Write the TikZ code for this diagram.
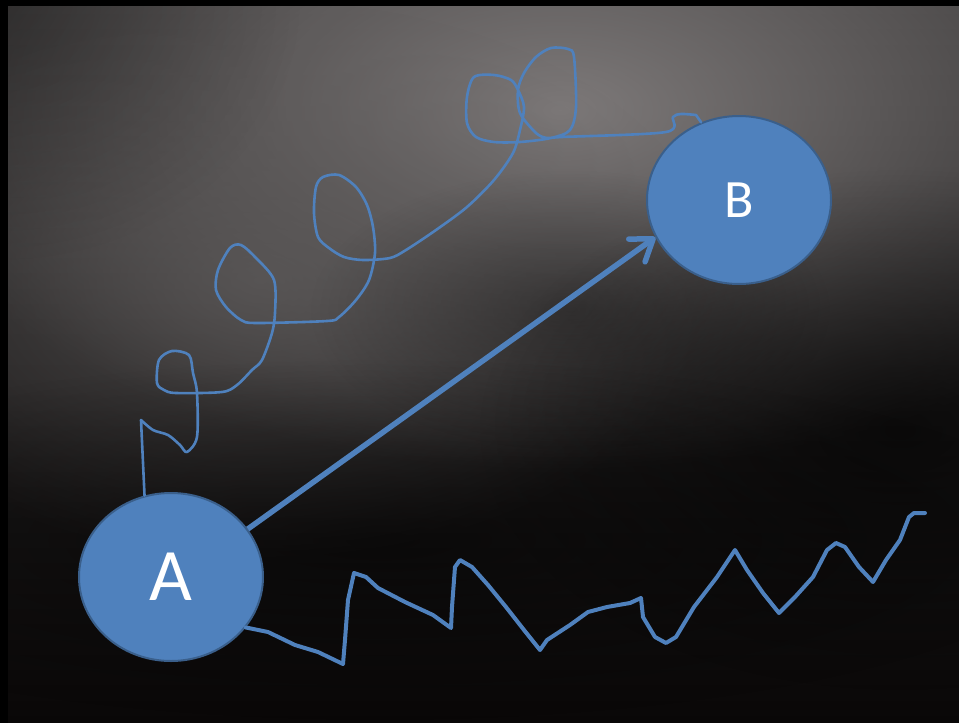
\documentclass[tikz,border=0pt]{standalone}
\usepackage{fontspec}
\setmainfont{Carlito}
\usetikzlibrary{arrows.meta, shapes.geometric, fadings}

\definecolor{ballfill}{HTML}{4F81BD}
\definecolor{ballrim}{HTML}{3A5F8B}
\definecolor{pen}{HTML}{4F81BD}
\definecolor{boardtop}{HTML}{383636}
\definecolor{boardmid}{HTML}{201E1E}
\definecolor{boardbot}{HTML}{090707}
\definecolor{glow}{HTML}{7E7A7A}

\tikzfading[name=softspot, inner color=transparent!0, outer color=transparent!100]

\begin{document}
\begin{tikzpicture}[x=1pt, y=-1pt,
    ball/.style={ellipse, draw=ballrim, line width=2pt, fill=ballfill,
        inner sep=0pt, minimum width=184pt, minimum height=168pt, text=white},
    scribble/.style={draw=pen, line width=2.6pt, line cap=round, line join=round},
    zigzag/.style={draw=pen, line width=4pt, line cap=round, line join=round},
    push/.style={draw=pen, line width=5.5pt,
        -{Straight Barb[length=20pt, width=28pt, round]}}
]

    % ================= 背景: 黑板 =================
    \useasboundingbox (0,0) rectangle (959,723);
    \fill[black] (0,0) rectangle (959,723);
    \shade[top color=boardtop, middle color=boardmid, bottom color=boardbot]
        (8,6) rectangle (959,723);
    % 上方中间的亮斑, 四角压暗
    \begin{scope}
        \clip (8,6) rectangle (959,723);
        \fill[glow, path fading=softspot] (560,110) ellipse (680 and 360);
        \fill[glow!75!black, path fading=softspot, opacity=0.7] (260,280) ellipse (460 and 280);
        \fill[black, path fading=softspot, opacity=0.35] (570,310) ellipse (260 and 140);
        \fill[black, path fading=softspot, opacity=0.6] (900,430) ellipse (420 and 260);
        \fill[black, path fading=softspot, opacity=0.25] (0,0) ellipse (300 and 260);
        \fill[black, path fading=softspot, opacity=0.5] (380,540) ellipse (700 and 180);
    \end{scope}

    % ================= 两个点 =================
    \node[ball, font=\fontsize{74}{80}\selectfont] (A) at (171,577) {A};
    \node[ball, font=\fontsize{54}{60}\selectfont] (B) at (739,200) {B};

    % 直线箭头 A -> B
    \draw[push] (A.32) -- (B.204);

    % 绕圈的路线 A -> B
    \draw[scribble] (A.108) -- (141,420) -- plot[smooth, tension=0.5] coordinates {
        (141,420) (153,430) (168,435) (180,445) (187,452) (197,437) (197,393)
        (193,373) (189,355) (172,351) (159,360) (157,383) (164,390) (176,393)
        (222,392) (237,385) (252,370) (262,360) (272,333) (275,313) (274,280)
        (256,258) (241,245) (230,248) (218,270) (216,290) (226,307) (241,320)
        (256,323) (327,321) (339,317) (356,300) (369,280) (375,253) (373,227)
        (367,205) (356,187) (339,175) (323,177) (316,187) (314,213) (318,237)
        (329,248) (344,257) (363,260) (390,258) (406,250) (436,230) (467,207)
        (494,180) (513,153) (520,130) (524,107) (518,90) (511,80) (494,75)
        (474,77) (467,97) (467,123) (476,137) (494,142) (520,142) (551,138)
        (570,130) (576,107) (574,57) (568,49) (551,48) (536,57) (524,73)
        (518,90) (520,113) (536,133) (547,138) (562,137) (666,132) (673,117)
        (681,114) (696,115)} -- (B.116);

    % 锯齿线 (终点悬空)
    \coordinate (zigend) at (925,513);
    \draw[zigzag] (A.326) -- plot coordinates {
        (268,632) (295,645) (318,652) (343,664) (345,640) (348,600) (354,573)
        (366,577) (378,588) (405,602) (433,615) (451,628) (452,607) (455,567)
        (460,560) (472,567) (488,585) (506,607) (524,630) (540,650) (547,640)
        (570,625) (588,612) (607,607) (630,603) (641,598) (643,617) (655,637)
        (666,643) (676,637) (694,607) (717,577) (735,550) (747,570) (763,593)
        (779,613) (795,597) (813,577) (827,550) (836,543) (845,547) (859,567)
        (873,582) (886,560) (900,540) (909,517) (914,513)} -- (zigend);

\end{tikzpicture}
\end{document}
